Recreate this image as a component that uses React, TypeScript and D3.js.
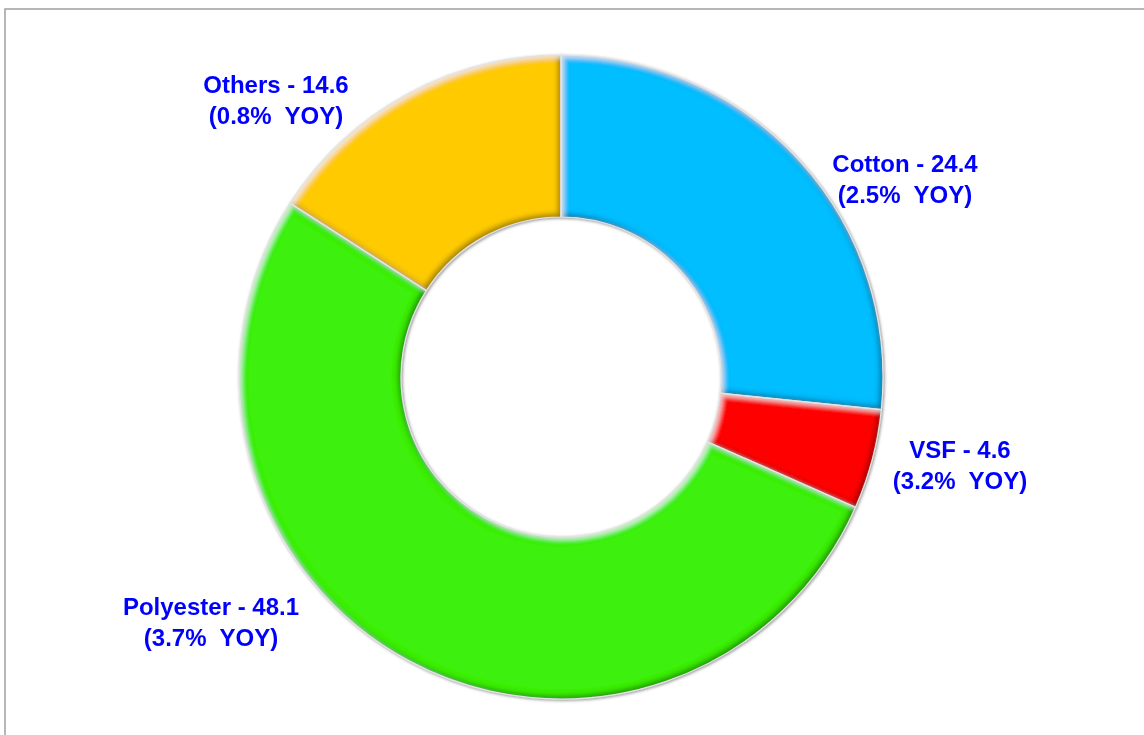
import React from "react";
import * as d3 from "d3";

const categories = ["Cotton", "VSF", "Polyester", "Others"];
const values = [24.4, 4.6, 48.1, 14.6];
const yoy = ["2.5%", "3.2%", "3.7%", "0.8%"];
const colors = ["#00BEFF", "#FF0000", "#3CF00A", "#FFCB00"];
// label anchor (centre of first baseline) per category, layout only
const labelAnchors: [number, number][] = [
  [905, 172],
  [960, 458],
  [211, 615],
  [276, 93],
];

const W = 1144;
const H = 735;
const cx = 561;
const cy = 377;
const outerR = 322;
const innerR = 160;

export default function App() {
  const pie = d3
    .pie<number>()
    .sort(null)
    .value((d) => d)
    .startAngle(0)
    .endAngle(Math.PI * 2);
  const arcs = pie(values);
  const arc = d3.arc<d3.PieArcDatum<number>>().innerRadius(innerR).outerRadius(outerR);

  return (
    <svg
      width={W}
      height={H}
      style={{ position: "absolute", left: 0, top: 0, background: "#fff" }}
    >
      <defs>
        <filter id="bevel" x="-10%" y="-10%" width="120%" height="120%">
          <feGaussianBlur in="SourceAlpha" stdDeviation="4" result="blur" />
          <feComposite in="SourceAlpha" in2="blur" operator="out" result="edge" />
          <feFlood floodColor="#000" floodOpacity="0.5" />
          <feComposite in2="edge" operator="in" result="shadow" />
          <feOffset in="SourceAlpha" dx="-3" dy="-3" result="offD" />
          <feGaussianBlur in="offD" stdDeviation="2.5" result="offDb" />
          <feComposite in="SourceAlpha" in2="offDb" operator="out" result="dEdge" />
          <feFlood floodColor="#000" floodOpacity="0.5" />
          <feComposite in2="dEdge" operator="in" result="dark" />
          <feOffset in="SourceAlpha" dx="3" dy="3" result="offL" />
          <feGaussianBlur in="offL" stdDeviation="2" result="offLb" />
          <feComposite in="SourceAlpha" in2="offLb" operator="out" result="lEdge" />
          <feFlood floodColor="#fff" floodOpacity="0.6" />
          <feComposite in2="lEdge" operator="in" result="hi" />
          <feMerge result="m">
            <feMergeNode in="SourceGraphic" />
            <feMergeNode in="shadow" />
            <feMergeNode in="dark" />
            <feMergeNode in="hi" />
          </feMerge>
          <feComposite in="m" in2="SourceAlpha" operator="in" />
        </filter>
        <filter id="drop" x="-10%" y="-10%" width="120%" height="120%">
          <feDropShadow dx="1" dy="1" stdDeviation="1.5" floodColor="#666" floodOpacity="0.7" />
        </filter>
      </defs>
      <rect x={5} y={9} width={W + 10} height={H + 10} fill="#fff" stroke="#a0a0a0" strokeWidth={1.5} />
      <g transform={`translate(${cx},${cy})`} filter="url(#drop)">
        {arcs.map((a, i) => (
          <path key={categories[i]} d={arc(a) || ""} fill={colors[i]} filter="url(#bevel)" />
        ))}
        {arcs.map((a, i) => (
          <path
            key={"s" + categories[i]}
            d={arc(a) || ""}
            fill="none"
            stroke="#e4e4e4"
            strokeWidth={1.2}
          />
        ))}
      </g>
      <g
        fontFamily="Arial, 'Liberation Sans', sans-serif"
        fontWeight="bold"
        fontSize={24}
        fill="#0000FF"
        textAnchor="middle"
      >
        {categories.map((c, i) => (
          <text key={c} x={labelAnchors[i][0]} y={labelAnchors[i][1]} style={{ whiteSpace: "pre" }}>
            <tspan x={labelAnchors[i][0]}>{`${c} - ${values[i]}`}</tspan>
            <tspan x={labelAnchors[i][0]} dy={31}>{`(${yoy[i]}  YOY)`}</tspan>
          </text>
        ))}
      </g>
    </svg>
  );
}
